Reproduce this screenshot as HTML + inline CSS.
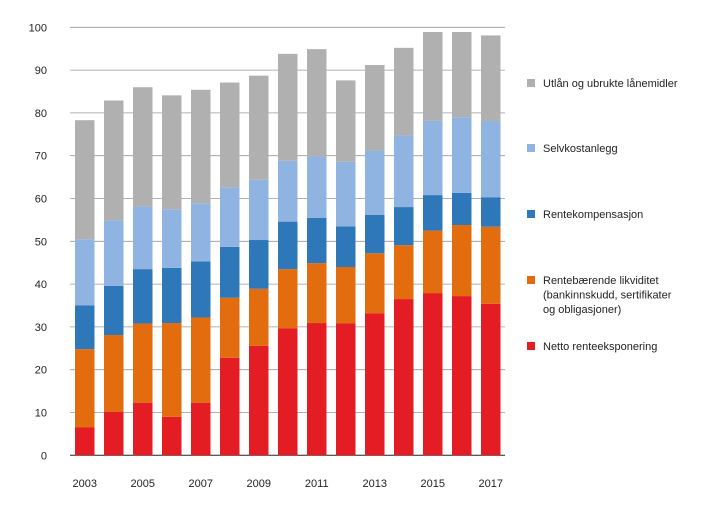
<!DOCTYPE html>
<html><head><meta charset="utf-8"><style>
body{margin:0;background:#fff;font-family:"Liberation Sans",sans-serif;}
svg text{font-family:"Liberation Sans",sans-serif;font-size:11px;fill:#222;}
</style></head><body>
<svg id="chart" width="719" height="510">
<g id="grid"></g><g id="bars"></g><g id="axes"></g><g id="legend"></g>
</svg>
<script>
const years=[2003,2004,2005,2006,2007,2008,2009,2010,2011,2012,2013,2014,2015,2016,2017];
const netto=[6.5,10.2,12.3,9.0,12.3,22.8,25.6,29.7,30.9,30.8,33.2,36.5,37.9,37.2,35.4];
const likviditet=[18.3,17.9,18.5,21.9,19.9,14.0,13.3,13.8,14.0,13.2,14.0,12.6,14.6,16.6,18.0];
const kompensasjon=[10.2,11.5,12.7,12.9,13.1,11.9,11.4,11.1,10.6,9.5,9.0,8.9,8.3,7.5,6.9];
const selvkost=[15.5,15.3,14.6,13.7,13.6,13.9,14.1,14.2,14.3,15.1,15.0,16.7,17.4,17.7,17.8];
const utlan=[27.8,28.0,27.9,26.6,26.5,24.5,24.3,25.0,25.1,19.0,20.0,20.5,20.7,19.9,20.0];
const yTicks=[0,10,20,30,40,50,60,70,80,90,100];
const xLabels=[2003,2005,2007,2009,2011,2013,2015,2017];
const series=[
 {name:"Netto renteeksponering",vals:netto,color:"#e41c23",key:"netto"},
 {name:"Rentebærende likviditet (bankinnskudd, sertifikater og obligasjoner)",vals:likviditet,color:"#e36c0e",key:"likviditet"},
 {name:"Rentekompensasjon",vals:kompensasjon,color:"#2e78ba",key:"kompensasjon"},
 {name:"Selvkostanlegg",vals:selvkost,color:"#8fb4e1",key:"selvkost"},
 {name:"Utlån og ubrukte lånemidler",vals:utlan,color:"#b0b0b0",key:"utlan"}];
const NS="http://www.w3.org/2000/svg";
const y0=455.3,pxPer=4.28,xStart=75,step=29,bw=19.5;
const Y=v=>y0-v*pxPer;
const X=i=>xStart+i*step;
function mk(tag,attrs,parent){const e=document.createElementNS(NS,tag);for(const k in attrs)e.setAttribute(k,attrs[k]);parent.appendChild(e);return e;}
const grid=document.getElementById('grid'),axes=document.getElementById('axes'),bars=document.getElementById('bars'),legend=document.getElementById('legend');
yTicks.forEach(t=>{
 const l=mk('line',{x1:70,x2:505,y1:Y(t),y2:Y(t),stroke:t===0?'#222':'#999','stroke-width':t===0?1:0.8},grid);
 
 
 const tx=mk('text',{x:47,y:Y(t)+4,'text-anchor':'end'},axes);
 tx.textContent=t;
 
 
});
xLabels.forEach(yr=>{
 const i=years.indexOf(yr);
 const tx=mk('text',{x:X(i)+bw/2,y:487,'text-anchor':'middle'},axes);
 tx.textContent=yr;
 
 
});
years.forEach((yr,i)=>{
 let cum=0;
 series.forEach(s=>{
  const v=s.vals[i];
  const r=mk('rect',{x:X(i),y:Y(cum+v),width:bw,height:v*pxPer,fill:s.color},bars);
  
  
  cum+=v;
 });
});
const legendItems=[
 {s:4,y:83,lines:["Utlån og ubrukte lånemidler"]},
 {s:3,y:148,lines:["Selvkostanlegg"]},
 {s:2,y:214,lines:["Rentekompensasjon"]},
 {s:1,y:280,lines:["Rentebærende likviditet","(bankinnskudd, sertifikater","og obligasjoner)"]},
 {s:0,y:346,lines:["Netto renteeksponering"]}];
legendItems.forEach(it=>{
 const s=series[it.s];
 const g=mk('g',{},legend);
 
 
 mk('rect',{x:527,y:it.y-4,width:8,height:8,fill:s.color},g);
 it.lines.forEach((ln,j)=>{const t=mk('text',{x:543,y:it.y+4+j*14.5},g);t.textContent=ln;});
});
</script>
</body></html>
